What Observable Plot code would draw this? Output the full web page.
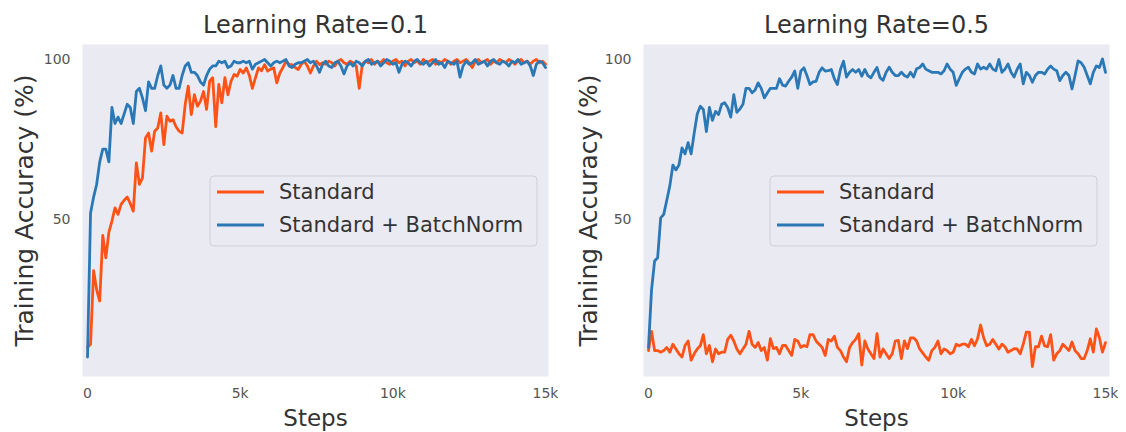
<!DOCTYPE html>
<html>
<head>
<meta charset="utf-8">
<script src="https://cdn.jsdelivr.net/npm/d3@7"></script>
<script src="https://cdn.jsdelivr.net/npm/@observablehq/plot@0.6"></script>
<style>
  html, body { margin: 0; padding: 0; background: #fff; }
  #wrap { display: flex; width: 1126px; height: 432px; }
  #wrap svg { display: block; }
</style>
</head>
<body>
<div id="wrap"></div>
<script>
// ---- data (training accuracy %, one value every 100 steps, 0..15000) ----
const stepSize = 100;
const titles = ["Learning Rate=0.1", "Learning Rate=0.5"];
const seriesNames = ["Standard", "Standard + BatchNorm"];
const xTicks = [0, 5000, 10000, 15000];
const xTickLabels = ["0", "5k", "10k", "15k"];
const yTicks = [50, 100];

const lr01Standard = [
  10, 11, 34, 28, 24.5, 45, 38, 46, 49.5, 53.6,
  51.6, 54.7, 56, 57, 55, 52.6, 67.7, 61, 63, 75.5,
  77, 71.4, 77.6, 78.6, 83.3, 73.4, 82.3, 80.7, 81.2, 79,
  77.6, 77, 86, 91.7, 82.8, 89, 85.4, 87, 90, 84.4,
  93.2, 94.3, 79, 92.2, 86.5, 94.3, 89, 93.2, 95.3, 94.8,
  96.9, 95.8, 97.4, 95, 91, 94.3, 97.4, 96.5, 98.4, 96.4,
  97, 97.4, 92.7, 95.8, 97.5, 99.5, 98.5, 98.4, 97.5, 96.9,
  98.5, 99.5, 98, 95.8, 98, 99.5, 98.4, 99, 98.5, 99.5,
  99, 98, 99.5, 100, 99, 98.5, 99.5, 99, 98, 91,
  98.5, 99.5, 99, 100, 98.5, 99.5, 99, 100, 99, 98.5,
  99.5, 100, 99, 99.5, 98, 99.5, 100, 99, 99.5, 98.5,
  100, 99, 99.5, 100, 98.5, 99.5, 99, 100, 99.5, 98.5,
  99.5, 100, 99, 99.5, 100, 99, 97.5, 99.5, 100, 99,
  99.5, 100, 98.5, 99.5, 99, 100, 99.5, 99, 100, 99.5,
  98.5, 99.5, 100, 99, 99.5, 98.5, 99.5, 100, 99, 99.5,
  98.5
];
const lr01BatchNorm = [
  7, 52, 57, 61, 68, 72, 72, 68, 85, 80,
  82, 80, 83, 86, 85, 80, 90, 91, 88, 84,
  93, 91, 91, 95, 98, 92, 91, 92, 95, 91,
  91, 95, 98, 99, 96, 96, 95, 93, 92, 95,
  97, 98, 98, 99.5, 99, 99.5, 97.5, 98, 99.5, 99,
  99, 99.5, 99, 99.5, 97, 98.5, 99, 99.5, 100, 99,
  98, 99, 99.5, 99, 99.5, 100, 98, 97.5, 98.5, 99,
  99, 99.5, 100, 99, 99.5, 98, 96, 98.5, 99.5, 98,
  97.5, 99, 99.5, 98, 95.5, 98, 99, 98, 99.5, 99,
  98, 99.5, 100, 98.5, 99, 99.5, 98, 99, 100, 99.5,
  98.5, 99, 96, 98.5, 99.5, 99, 98, 99.5, 100, 99,
  98.5, 99.5, 98, 99, 100, 98.5, 99, 97.5, 99.5, 99,
  98.5, 99.5, 94.5, 98, 99.5, 98.5, 99, 100, 98.5, 99,
  99.5, 98, 99.5, 100, 99, 98.5, 99.5, 99, 98, 99.5,
  99, 100, 98.5, 99, 99.5, 98, 95, 98.5, 99.5, 99,
  97.5
];
const lr05Standard = [
  9, 15, 9, 9, 8.5, 9, 10, 8.5, 11, 9.5,
  8, 7, 10.6, 12, 6, 8, 9.5, 10.5, 14, 8,
  10.6, 5.5, 9.5, 8, 8.5, 8.5, 12.5, 13.8, 12, 9.5,
  8, 9.5, 11, 15, 11, 10, 11.5, 9, 10, 6,
  12.7, 9.6, 10, 8, 10.6, 10.6, 9, 7.5, 12.5, 12,
  10, 10.6, 10.2, 14, 14, 12, 11, 10, 7.5, 12.5,
  12, 13.5, 10, 9, 7, 5.5, 10, 11.5, 12.5, 14.3,
  4.5, 12, 9.5, 8, 6.5, 14.3, 7, 9.5, 8, 6.5,
  8, 12, 12.2, 6.5, 12, 9.6, 13, 13, 12, 9.5,
  8.3, 7, 6, 9, 10, 12, 8, 9.5, 9, 8,
  8.5, 11, 10.5, 11, 11, 10.2, 12.5, 10.5, 12.7, 17,
  13, 10.5, 11, 12.5, 11, 9.5, 11, 10.2, 8.5, 9,
  9.6, 9.5, 8, 11, 14.8, 14.8, 4, 10.2, 10.2, 13.5,
  10.5, 10.2, 14, 6, 8, 9, 11, 10, 9, 11.7,
  9, 8, 6.5, 6.5, 9, 12.7, 8.5, 15.8, 13, 8.5,
  11.5
];
const lr05BatchNorm = [
  10, 28, 37, 38, 50.5, 51.6, 56, 60.5, 67, 65.5,
  67, 72.4, 70.5, 74, 70.5, 77, 83, 85.4, 84.4, 77.5,
  85, 81, 83.8, 82.8, 86, 86.5, 85, 82, 89, 83.5,
  84.5, 86, 91, 91, 89.6, 90.5, 92.7, 91, 88, 89.5,
  91, 91, 91, 94, 92, 91.7, 93.2, 94.5, 96.4, 91,
  96.4, 97.4, 95, 92.2, 93, 93.2, 96, 97.4, 96.4, 96.5,
  96.9, 94, 92.2, 96.9, 99.5, 94.5, 96, 96.9, 96, 96.9,
  94.8, 96.9, 95, 94.3, 96, 97.5, 94.3, 93.5, 96, 97.6,
  96, 95, 95, 96, 95, 94.5, 96, 94.5, 97.1, 97.5,
  98.6, 97, 96.5, 96, 96, 96, 95.5, 96.5, 98.6, 97,
  96, 91.9, 94, 96, 97, 97.6, 96, 95.5, 98.6, 97,
  97.6, 97, 98.6, 97, 96.5, 100, 96, 97, 98.6, 96,
  94.5, 97, 98.6, 92.4, 96, 95, 92.9, 95, 96, 96,
  95.5, 97, 98, 97, 96.5, 93.4, 95, 96, 95, 90.8,
  95, 99.6, 99, 97.6, 95, 92.4, 96, 98, 97.5, 100.2,
  96
];

// ---- style ----
const ORANGE = "#ff5216";
const BLUE = "#2b78b6";
const BG = "#eaeaf2";
const FONT = "DejaVu Sans";

function toRows(values) {
  return values.map((v, i) => ({step: i * stepSize, acc: v}));
}

function panel(title, std, bn, opt) {
  const svg = Plot.plot({
    width: 563,
    height: 432,
    marginTop: 44,
    marginBottom: 56,
    marginLeft: opt.ml,
    marginRight: opt.mr,
    style: {fontFamily: FONT, fontSize: "14px", color: "#555", background: "#fff", overflow: "visible"},
    x: {domain: opt.xd, ticks: xTicks, tickFormat: d => xTickLabels[xTicks.indexOf(d)], tickSize: 0, tickPadding: 12, label: null},
    y: {domain: [0.9, 104.7], ticks: yTicks, tickSize: 0, tickPadding: 12, label: null},
    marks: [
      Plot.frame({fill: BG, stroke: null}),
      Plot.line(toRows(std), {x: "step", y: "acc", stroke: ORANGE, strokeWidth: 2.8, strokeLinejoin: "round"}),
      Plot.line(toRows(bn), {x: "step", y: "acc", stroke: BLUE, strokeWidth: 2.8, strokeLinejoin: "round"}),
      Plot.text([title], {frameAnchor: "top", dy: -19, lineAnchor: "middle", fontSize: 24, fill: "#333"}),
      Plot.text(["Steps"], {frameAnchor: "bottom", dy: 42, lineAnchor: "middle", fontSize: 23, fill: "#333"}),
      Plot.text(["Training Accuracy (%)"], {frameAnchor: "left", dx: opt.ylx, lineAnchor: "middle", textAnchor: "middle", rotate: -90, fontSize: 25, fill: "#333"})
    ]
  });
  // legend
  const g = d3.select(svg).append("g").attr("font-family", FONT).attr("text-anchor", "start");
  g.append("rect")
    .attr("x", opt.lx).attr("y", 176).attr("width", 327).attr("height", 70)
    .attr("rx", 4).attr("fill", BG).attr("fill-opacity", 0.85)
    .attr("stroke", "#cfcfd8").attr("stroke-width", 1);
  const cols = [ORANGE, BLUE];
  seriesNames.forEach((name, i) => {
    const y = 192 + i * 33;
    g.append("line").attr("x1", opt.lx + 7).attr("x2", opt.lx + 54)
      .attr("y1", y).attr("y2", y).attr("stroke", cols[i]).attr("stroke-width", 2.8);
    g.append("text").attr("x", opt.lx + 69).attr("y", y).attr("dy", "0.35em")
      .attr("text-anchor", "start")
      .attr("font-size", 21).attr("fill", "#333").text(name);
  });
  return svg;
}

const wrap = document.getElementById("wrap");
wrap.appendChild(panel(titles[0], lr01Standard, lr01BatchNorm, {ml: 82, mr: 15, xd: [-164, 15098], ylx: -58, lx: 210}));
wrap.appendChild(panel(titles[1], lr05Standard, lr05BatchNorm, {ml: 80, mr: 17, xd: [-164, 15131], ylx: -55, lx: 207}));
</script>
</body>
</html>
